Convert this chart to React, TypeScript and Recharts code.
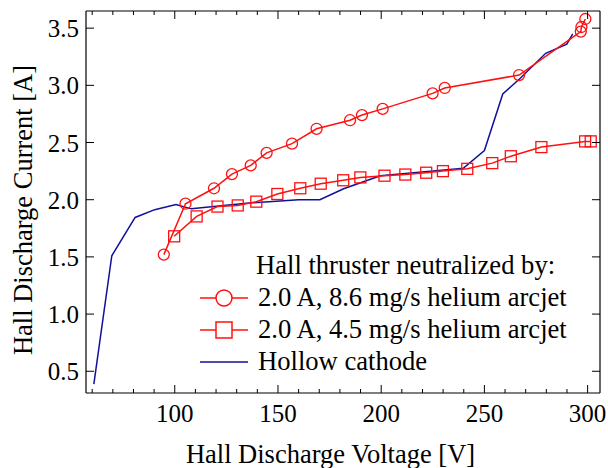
import React from 'react';
import { ComposedChart, Line, XAxis, YAxis, Legend, Label } from 'recharts';

const circleV = [94.7, 105.2, 119, 127.7, 136.8, 144.5, 156.8, 168.7, 184.9, 190.7, 200.7, 224.9, 230.8, 266.8, 296.7, 297, 298.9];
const circleI = [1.52, 1.965, 2.1, 2.224, 2.3, 2.41, 2.49, 2.62, 2.695, 2.74, 2.794, 2.93, 2.977, 3.09, 3.47, 3.51, 3.58];

const squareV = [99.7, 110.6, 120.7, 130.5, 139.5, 149.7, 160.8, 170.7, 181.6, 189.9, 201.6, 211.7, 221.8, 229.9, 241.7, 253.8, 262.8, 277.6, 298.8, 301.5];
const squareI = [1.68, 1.854, 1.94, 1.95, 1.983, 2.05, 2.1, 2.14, 2.17, 2.195, 2.21, 2.22, 2.236, 2.25, 2.27, 2.32, 2.38, 2.46, 2.51, 2.51];

const hollowV = [60.8, 69.5, 80.8, 90.3, 100.6, 108, 134.7, 160, 170.3, 181.8, 199.6, 239.9, 250, 258.9, 267, 279.7, 289.9, 292.8];
const hollowI = [0.388, 1.51, 1.845, 1.913, 1.958, 1.92, 1.97, 2.0, 2.0, 2.096, 2.21, 2.276, 2.43, 2.925, 3.056, 3.28, 3.36, 3.45];

const xTicks = [60, 70, 80, 90, 100, 110, 120, 130, 140, 150, 160, 170, 180, 190, 200, 210, 220, 230, 240, 250, 260, 270, 280, 290, 300];
const yTicks = [0.5, 1.0, 1.5, 2.0, 2.5, 3.0, 3.5];

const legendTitle = 'Hall thruster neutralized by:';
const seriesNames = ['2.0 A, 8.6 mg/s helium arcjet', '2.0 A, 4.5 mg/s helium arcjet', 'Hollow cathode'];

const toRows = (xs: number[], ys: number[]) => xs.map((v, i) => ({ v, i: ys[i] }));
const circleData = toRows(circleV, circleI);
const squareData = toRows(squareV, squareI);
const hollowData = toRows(hollowV, hollowI);

const FONT = "'Liberation Serif', 'Times New Roman', Times, 'DejaVu Serif', serif";
const RED = '#ff1010';
const BLUE = '#10109a';
const TICK_FS = 25;
const TITLE_FS = 26.5;
const LEG_FS = 26.6;

const XBottomTick = (props: any) => {
  const { x, y, payload } = props;
  const major = payload.value % 50 === 0;
  return (
    <g>
      <line x1={x} x2={x} y1={y} y2={y - (major ? 8 : 4)} stroke="#000" strokeWidth={1} />
      {major && (
        <text x={x} y={y + 28.5} textAnchor="middle" style={{ fontFamily: FONT }} fontSize={TICK_FS} fill="#000">
          {payload.value}
        </text>
      )}
    </g>
  );
};

const XTopTick = (props: any) => {
  const { x, y, payload } = props;
  const major = payload.value % 50 === 0;
  return <line x1={x} x2={x} y1={y} y2={y + (major ? 8 : 4)} stroke="#000" strokeWidth={1} />;
};

const YLeftTick = (props: any) => {
  const { x, y, payload } = props;
  return (
    <g>
      <line x1={x} x2={x + 8} y1={y} y2={y} stroke="#000" strokeWidth={1} />
      <text x={x - 7} y={y + 9} textAnchor="end" style={{ fontFamily: FONT }} fontSize={TICK_FS} fill="#000">
        {payload.value.toFixed(1)}
      </text>
    </g>
  );
};

const YRightTick = (props: any) => {
  const { x, y } = props;
  return <line x1={x} x2={x - 8} y1={y} y2={y} stroke="#000" strokeWidth={1} />;
};

const CircleDot = (props: any) => {
  const { cx, cy, index } = props;
  if (cx == null || cy == null) return <g key={`c${index}`} />;
  return <circle key={`c${index}`} cx={cx} cy={cy} r={5.5} fill="none" stroke={RED} strokeWidth={1.3} />;
};

const SquareDot = (props: any) => {
  const { cx, cy, index } = props;
  if (cx == null || cy == null) return <g key={`s${index}`} />;
  return <rect key={`s${index}`} x={cx - 5.5} y={cy - 5.5} width={11} height={11} fill="none" stroke={RED} strokeWidth={1.3} />;
};

const renderLegend = () => (
  <div style={{ position: 'relative', width: 0, height: 0 }}>
    <svg width={608} height={468} style={{ position: 'absolute', left: 0, top: 0, overflow: 'visible', fontFamily: FONT }}>
      <text x={256} y={274} fontSize={LEG_FS} fill="#000">{legendTitle}</text>
      <line x1={200} x2={248} y1={298} y2={298} stroke={RED} strokeWidth={1.5} />
      <circle cx={224} cy={298} r={8} fill="#fff" stroke={RED} strokeWidth={1.5} />
      <text x={258} y={305.5} fontSize={LEG_FS} fill="#000">{seriesNames[0]}</text>
      <line x1={200} x2={248} y1={330} y2={330} stroke={RED} strokeWidth={1.5} />
      <rect x={216} y={322} width={16} height={16} fill="#fff" stroke={RED} strokeWidth={1.5} />
      <text x={258} y={337.5} fontSize={LEG_FS} fill="#000">{seriesNames[1]}</text>
      <line x1={200} x2={248} y1={362} y2={362} stroke={BLUE} strokeWidth={1.5} />
      <text x={258} y={369.5} fontSize={LEG_FS} fill="#000">{seriesNames[2]}</text>
    </svg>
  </div>
);

export default function App() {
  return (
    <div style={{ position: 'absolute', left: 0, top: 0, width: 608, height: 468, background: '#fff', fontFamily: FONT }}>
      <ComposedChart width={608} height={468} margin={{ top: 10, right: 7, left: 0, bottom: 0 }}>
        <XAxis
          xAxisId="b"
          type="number"
          dataKey="v"
          domain={[57, 306]}
          ticks={xTicks}
          allowDataOverflow
          height={75}
          tickSize={0}
          tickMargin={0}
          tickLine={false}
          interval={0}
          axisLine={{ stroke: '#000', strokeWidth: 1.2 }}
          tick={<XBottomTick />}
        >
          <Label
            content={(p: any) => {
              const vb = p.viewBox;
              return (
                <text x={330.5} y={vb.y + 70} textAnchor="middle" style={{ fontFamily: FONT }} fontSize={TITLE_FS} fill="#000">
                  Hall Discharge Voltage [V]
                </text>
              );
            }}
          />
        </XAxis>
        <XAxis
          xAxisId="t"
          orientation="top"
          type="number"
          dataKey="v"
          domain={[57, 306]}
          ticks={xTicks}
          allowDataOverflow
          height={1}
          tickSize={0}
          tickMargin={0}
          tickLine={false}
          interval={0}
          axisLine={{ stroke: '#000', strokeWidth: 1.2 }}
          tick={<XTopTick />}
        />
        <YAxis
          yAxisId="l"
          type="number"
          domain={[0.31, 3.65]}
          ticks={yTicks}
          allowDataOverflow
          width={86}
          tickSize={0}
          tickMargin={0}
          tickLine={false}
          interval={0}
          axisLine={{ stroke: '#000', strokeWidth: 1.2 }}
          tick={<YLeftTick />}
        >
          <Label
            content={() => {
              const cx = 32;
              const cy = 210;
              return (
                <text
                  x={cx}
                  y={cy}
                  transform={`rotate(-90, ${cx}, ${cy})`}
                  textAnchor="middle"
                  style={{ fontFamily: FONT }}
                  fontSize={TITLE_FS}
                  fill="#000"
                >
                  Hall Discharge Current [A]
                </text>
              );
            }}
          />
        </YAxis>
        <YAxis
          yAxisId="r"
          orientation="right"
          type="number"
          domain={[0.31, 3.65]}
          ticks={yTicks}
          allowDataOverflow
          width={1}
          tickSize={0}
          tickMargin={0}
          tickLine={false}
          interval={0}
          axisLine={{ stroke: '#000', strokeWidth: 1.2 }}
          tick={<YRightTick />}
        />
        <Legend content={renderLegend} wrapperStyle={{ left: 0, top: 0, width: 0, height: 0 }} />
        <Line
          xAxisId="t"
          yAxisId="r"
          data={hollowData}
          dataKey="i"
          hide
          dot={false}
          activeDot={false}
          isAnimationActive={false}
          legendType="none"
        />
        <Line
          xAxisId="b"
          yAxisId="l"
          data={hollowData}
          dataKey="i"
          type="linear"
          stroke={BLUE}
          strokeWidth={1.5}
          dot={false}
          activeDot={false}
          isAnimationActive={false}
          name={seriesNames[2]}
        />
        <Line
          xAxisId="b"
          yAxisId="l"
          data={squareData}
          dataKey="i"
          type="linear"
          stroke={RED}
          strokeWidth={1.5}
          dot={<SquareDot />}
          activeDot={false}
          isAnimationActive={false}
          name={seriesNames[1]}
        />
        <Line
          xAxisId="b"
          yAxisId="l"
          data={circleData}
          dataKey="i"
          type="linear"
          stroke={RED}
          strokeWidth={1.5}
          dot={<CircleDot />}
          activeDot={false}
          isAnimationActive={false}
          name={seriesNames[0]}
        />
      </ComposedChart>
    </div>
  );
}
